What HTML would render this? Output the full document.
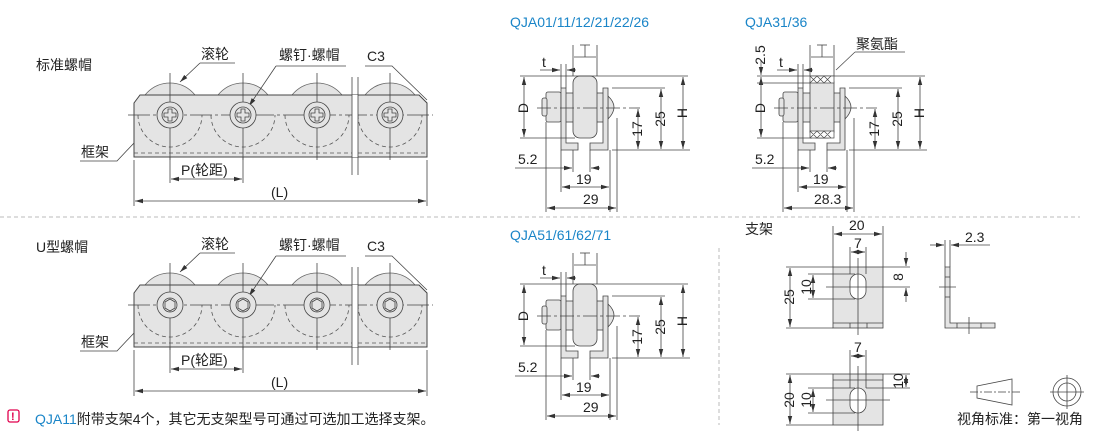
<!DOCTYPE html>
<html><head><meta charset="utf-8"><style>
html,body{margin:0;padding:0;background:#fff;width:1110px;height:431px;overflow:hidden}
svg{display:block}
text{font-family:"Liberation Sans","Noto Sans CJK SC",sans-serif;fill:#222}
</style></head><body>
<svg width="1110" height="431" viewBox="0 0 1110 431" xmlns="http://www.w3.org/2000/svg">
<defs>
<marker id="a" markerWidth="8" markerHeight="6" refX="8" refY="3" orient="auto-start-reverse" markerUnits="userSpaceOnUse"><path d="M0,0.8 L8,3 L0,5.2 Z" fill="#333"/></marker>
<g id="chain">
 <g fill="#e4e4e4" stroke="#666" stroke-width="0.8">
  <circle cx="170" cy="115" r="32"/><circle cx="243" cy="115" r="32"/><circle cx="317" cy="115" r="32"/><circle cx="390" cy="115" r="32"/>
 </g>
 <path d="M134,103 L140,95 L419,95 L427,103 L427,157 L134,157 Z" fill="#e4e4e4" stroke="#444" stroke-width="1"/>
 <g fill="none" stroke="#555" stroke-width="0.8" stroke-dasharray="4 3">
  <path d="M138,115 A32,32 0 0 0 202,115"/><path d="M211,115 A32,32 0 0 0 275,115"/><path d="M285,115 A32,32 0 0 0 349,115"/><path d="M358,115 A32,32 0 0 0 422,115"/>
  <line x1="134" y1="153" x2="427" y2="153"/>
 </g>
 <g stroke="#444" stroke-width="0.8">
  <line x1="128" y1="115" x2="433" y2="115" stroke-dasharray="22 3 3 3"/>
  <line x1="170" y1="73" x2="170" y2="160"/><line x1="243" y1="73" x2="243" y2="160"/><line x1="317" y1="73" x2="317" y2="160"/><line x1="390" y1="73" x2="390" y2="160"/>
  <rect x="352" y="95" width="6" height="62" fill="#fff" stroke="none"/>
  <line x1="352" y1="77" x2="352" y2="175"/><line x1="358" y1="77" x2="358" y2="175"/>
  <line x1="134" y1="160" x2="134" y2="206"/><line x1="427" y1="160" x2="427" y2="206"/>
  <line x1="170" y1="157" x2="170" y2="183"/><line x1="243" y1="157" x2="243" y2="183"/>
  <line x1="171" y1="179" x2="242" y2="179" marker-start="url(#a)" marker-end="url(#a)"/>
  <line x1="135" y1="201" x2="426" y2="201" marker-start="url(#a)" marker-end="url(#a)"/>
  <polyline points="200,63 235,63" fill="none"/><line x1="200" y1="63" x2="180" y2="82" marker-end="url(#a)"/>
  <polyline points="276,66 346,66" fill="none"/><line x1="276" y1="66" x2="249" y2="106" marker-end="url(#a)"/>
  <polyline points="365,66 392,66 427,100" fill="none"/>
  <polyline points="80,161 117,161 134,143" fill="none"/>
 </g>
</g>
<g id="screwc" fill="#e4e4e4" stroke="#444" stroke-width="0.8">
 <circle r="13"/><circle r="8"/><path d="M-2,-6 L2,-6 L2,-2 L6,-2 L6,2 L2,2 L2,6 L-2,6 L-2,2 L-6,2 L-6,-2 L-2,-2 Z" fill="none"/>
</g>
<g id="screwh" fill="#e4e4e4" stroke="#444" stroke-width="0.8">
 <circle r="13"/><circle r="7"/><polygon points="-5,-3 0,-6 5,-3 5,3 0,6 -5,3" fill="none"/>
</g>
<g id="sec">
 <g stroke="#444" stroke-width="0.8" fill="#e4e4e4">
  <rect x="546" y="92" width="15" height="30" rx="2"/>
  <rect x="542" y="98" width="5" height="18" rx="2"/>
  <rect x="565" y="93" width="39" height="29"/>
  <path d="M608,96 Q620,107 608,119 Z"/>
  <path d="M561,88 L566,88 L566,143 L578,143 L578,150 L561,150 Z"/>
  <path d="M603,88 L608,88 L608,150 L590,150 L590,143 L603,143 Z"/>
  <rect x="573" y="76" width="24" height="62" rx="7"/>
 </g>
 <g stroke="#444" stroke-width="0.8" fill="none">
  <line x1="537" y1="108" x2="640" y2="108" stroke-dasharray="14 3 3 3"/>
  <line x1="520" y1="76" x2="688" y2="76"/><line x1="520" y1="138" x2="575" y2="138"/>
  <line x1="524" y1="77" x2="524" y2="137" marker-start="url(#a)" marker-end="url(#a)"/>
  <line x1="612" y1="88" x2="665" y2="88"/><line x1="612" y1="150" x2="690" y2="150"/>
  <line x1="638" y1="109" x2="638" y2="149" marker-start="url(#a)" marker-end="url(#a)"/>
  <line x1="661" y1="89" x2="661" y2="149" marker-start="url(#a)" marker-end="url(#a)"/>
  <line x1="683" y1="77" x2="683" y2="149" marker-start="url(#a)" marker-end="url(#a)"/>
  <line x1="561" y1="64" x2="561" y2="88"/><line x1="566" y1="64" x2="566" y2="88"/>
  <line x1="540" y1="70" x2="560" y2="70" marker-end="url(#a)"/><line x1="576" y1="70" x2="567" y2="70" marker-end="url(#a)"/>
  <line x1="573" y1="45" x2="573" y2="76"/><line x1="597" y1="45" x2="597" y2="76"/>
  <line x1="574" y1="57" x2="596" y2="57"/><line x1="585" y1="45" x2="585" y2="57"/><line x1="580" y1="45" x2="590" y2="45"/>
  <line x1="561" y1="150" x2="561" y2="192"/><line x1="610" y1="150" x2="610" y2="212"/>
  <line x1="546" y1="122" x2="546" y2="212"/><line x1="617" y1="118" x2="617" y2="212"/>
  <line x1="573" y1="150" x2="573" y2="172"/><line x1="590" y1="150" x2="590" y2="172"/>
  <line x1="515" y1="168" x2="572" y2="168" marker-end="url(#a)"/><line x1="600" y1="168" x2="591" y2="168" marker-end="url(#a)"/>
  <line x1="562" y1="187" x2="609" y2="187" marker-start="url(#a)" marker-end="url(#a)"/>
  <line x1="547" y1="208" x2="616" y2="208" marker-start="url(#a)" marker-end="url(#a)"/>
 </g>
 <g font-size="14">
  <text x="542" y="67">t</text>
  <text x="518" y="164">5.2</text>
  <text x="576" y="184">19</text>
  <text transform="translate(528,108) rotate(-90)" text-anchor="middle">D</text>
  <text transform="translate(642,129) rotate(-90)" text-anchor="middle">17</text>
  <text transform="translate(665,119) rotate(-90)" text-anchor="middle">25</text>
  <text transform="translate(687,113) rotate(-90)" text-anchor="middle">H</text>
 </g>
</g>
</defs>

<line x1="0" y1="217" x2="1080" y2="217" stroke="#bbb" stroke-width="1" stroke-dasharray="4 3"/>
<line x1="719" y1="248" x2="719" y2="425" stroke="#bbb" stroke-width="1" stroke-dasharray="4 3"/>

<use href="#chain"/>
<use href="#screwc" x="170" y="115"/><use href="#screwc" x="243" y="115"/><use href="#screwc" x="317" y="115"/><use href="#screwc" x="390" y="115"/>
<g font-size="14">
 <text x="36" y="70">标准螺帽</text>
 <text x="201" y="59">滚轮</text>
 <text x="279" y="60">螺钉·螺帽</text>
 <text x="367" y="61">C3</text>
 <text x="81" y="157">框架</text>
 <text x="181" y="175">P(轮距)</text>
 <text x="271" y="197">(L)</text>
</g>

<g transform="translate(0,190)">
 <use href="#chain"/>
 <use href="#screwh" x="170" y="115"/><use href="#screwh" x="243" y="115"/><use href="#screwh" x="317" y="115"/><use href="#screwh" x="390" y="115"/>
 <g font-size="14">
  <text x="201" y="59">滚轮</text>
  <text x="279" y="60">螺钉·螺帽</text>
  <text x="367" y="61">C3</text>
  <text x="81" y="157">框架</text>
  <text x="181" y="175">P(轮距)</text>
  <text x="271" y="197">(L)</text>
 </g>
</g>
<text x="36" y="252" font-size="14">U型螺帽</text>

<rect x="8" y="410" width="11" height="12" rx="2" fill="none" stroke="#e0004d" stroke-width="1.3"/>
<text x="11" y="420" font-size="11" font-weight="bold" style="fill:#e0004d">!</text>
<text x="35" y="424" font-size="14"><tspan style="fill:#1a85c8">QJA11</tspan>附带支架4个，其它无支架型号可通过可选加工选择支架。</text>

<text x="510" y="27" font-size="14" style="fill:#1a85c8">QJA01/11/12/21/22/26</text>
<use href="#sec"/>
<text x="583" y="204" font-size="14">29</text>

<text x="745" y="27" font-size="14" style="fill:#1a85c8">QJA31/36</text>
<g transform="translate(237,0)">
 <use href="#sec"/>
 <g stroke="#444" stroke-width="0.7" fill="#fff">
  <rect x="573" y="76" width="24" height="7"/><rect x="573" y="131" width="24" height="7"/>
  <path d="M573,76 L580,83 M580,76 L587,83 M587,76 L594,83 M580,83 L587,76 M587,83 L594,76 M573,83 L580,76 M573,131 L580,138 M580,131 L587,138 M587,131 L594,138 M580,138 L587,131 M587,138 L594,131 M573,138 L580,131" fill="none"/>
  <line x1="520" y1="83" x2="573" y2="83"/>
  <line x1="524" y1="60" x2="524" y2="75" marker-end="url(#a)"/>
  <line x1="599" y1="70" x2="618" y2="52"/><line x1="618" y1="52" x2="668" y2="52"/>
 </g>
 <rect x="508" y="200" width="20" height="12" fill="#fff"/>
 <text transform="translate(528,55) rotate(-90)" text-anchor="middle" font-size="14">2.5</text>
 <text x="619" y="49" font-size="14">聚氨酯</text>
 <text x="577" y="204" font-size="14">28.3</text>
</g>

<text x="510" y="240" font-size="14" style="fill:#1a85c8">QJA51/61/62/71</text>
<g transform="translate(0,208)">
 <use href="#sec"/>
 <text x="583" y="204" font-size="14">29</text>
</g>

<text x="745" y="234" font-size="14">支架</text>
<g stroke="#444" stroke-width="0.8">
 <rect x="833" y="267" width="50" height="61" fill="#e4e4e4"/>
 <line x1="833" y1="323" x2="883" y2="323"/><line x1="850" y1="323" x2="850" y2="328"/><line x1="867" y1="323" x2="867" y2="328"/>
 <rect x="850" y="274" width="16" height="25" rx="8" fill="#fff"/>
 <line x1="858" y1="258" x2="858" y2="335"/><line x1="826" y1="287" x2="890" y2="287"/>
 <line x1="833" y1="226" x2="833" y2="267"/><line x1="883" y1="226" x2="883" y2="267"/>
 <line x1="834" y1="234" x2="882" y2="234" marker-start="url(#a)" marker-end="url(#a)"/>
 <line x1="850" y1="247" x2="850" y2="274"/><line x1="866" y1="247" x2="866" y2="274"/>
 <line x1="851" y1="252" x2="865" y2="252" marker-start="url(#a)" marker-end="url(#a)"/>
 <line x1="786" y1="267" x2="833" y2="267"/><line x1="786" y1="328" x2="833" y2="328"/>
 <line x1="790" y1="268" x2="790" y2="327" marker-start="url(#a)" marker-end="url(#a)"/>
 <line x1="808" y1="274" x2="855" y2="274"/><line x1="808" y1="299" x2="855" y2="299"/>
 <line x1="813" y1="275" x2="813" y2="298" marker-start="url(#a)" marker-end="url(#a)"/>
 <line x1="883" y1="267" x2="910" y2="267"/><line x1="890" y1="287" x2="910" y2="287"/>
 <line x1="906" y1="252" x2="906" y2="266" marker-end="url(#a)"/><line x1="906" y1="302" x2="906" y2="288" marker-end="url(#a)"/>
 <path d="M945,267 L950,267 L950,323 L995,323 L995,328 L945,328 Z" fill="#e4e4e4"/>
 <line x1="945" y1="277" x2="950" y2="277"/><line x1="945" y1="297" x2="950" y2="297"/><line x1="957" y1="323" x2="957" y2="328"/><line x1="981" y1="323" x2="981" y2="328"/>
 <line x1="939" y1="287" x2="956" y2="287"/><line x1="969" y1="317" x2="969" y2="334"/>
 <line x1="945" y1="240" x2="945" y2="267"/><line x1="950" y1="240" x2="950" y2="267"/>
 <line x1="930" y1="245" x2="944" y2="245" marker-end="url(#a)"/><line x1="990" y1="245" x2="951" y2="245" marker-end="url(#a)"/>
 <rect x="833" y="374" width="50" height="51" fill="#e4e4e4"/>
 <line x1="833" y1="380" x2="883" y2="380"/>
 <rect x="850" y="388" width="16" height="25" rx="8" fill="#fff"/>
 <line x1="858" y1="366" x2="858" y2="431"/><line x1="826" y1="400" x2="890" y2="400"/>
 <line x1="850" y1="350" x2="850" y2="388"/><line x1="866" y1="350" x2="866" y2="388"/>
 <line x1="851" y1="356" x2="865" y2="356" marker-start="url(#a)" marker-end="url(#a)"/>
 <line x1="786" y1="374" x2="833" y2="374"/><line x1="786" y1="425" x2="833" y2="425"/>
 <line x1="790" y1="375" x2="790" y2="424" marker-start="url(#a)" marker-end="url(#a)"/>
 <line x1="808" y1="388" x2="855" y2="388"/><line x1="808" y1="413" x2="855" y2="413"/>
 <line x1="813" y1="389" x2="813" y2="412" marker-start="url(#a)" marker-end="url(#a)"/>
 <line x1="883" y1="374" x2="910" y2="374"/><line x1="866" y1="388" x2="910" y2="388"/>
 <line x1="906" y1="375" x2="906" y2="387" marker-start="url(#a)" marker-end="url(#a)"/>
 <path d="M977,386 L1012,379 L1012,405 L977,398 Z" fill="none"/>
 <line x1="970" y1="392" x2="1020" y2="392" stroke-dasharray="8 2 2 2"/>
 <circle cx="1067" cy="392" r="14" fill="none"/><circle cx="1067" cy="392" r="9" fill="none"/>
 <line x1="1050" y1="392" x2="1084" y2="392"/><line x1="1067" y1="375" x2="1067" y2="409"/>
</g>
<g font-size="14">
 <text x="849" y="230">20</text>
 <text x="854" y="248">7</text>
 <text transform="translate(794,297) rotate(-90)" text-anchor="middle">25</text>
 <text transform="translate(811,287) rotate(-90)" text-anchor="middle">10</text>
 <text transform="translate(903,277) rotate(-90)" text-anchor="middle">8</text>
 <text x="965" y="242">2.3</text>
 <text x="854" y="352">7</text>
 <text transform="translate(794,400) rotate(-90)" text-anchor="middle">20</text>
 <text transform="translate(811,400) rotate(-90)" text-anchor="middle">10</text>
 <text transform="translate(903,381) rotate(-90)" text-anchor="middle">10</text>
 <text x="957" y="424">视角标准：第一视角</text>
</g>
</svg>
</body></html>
